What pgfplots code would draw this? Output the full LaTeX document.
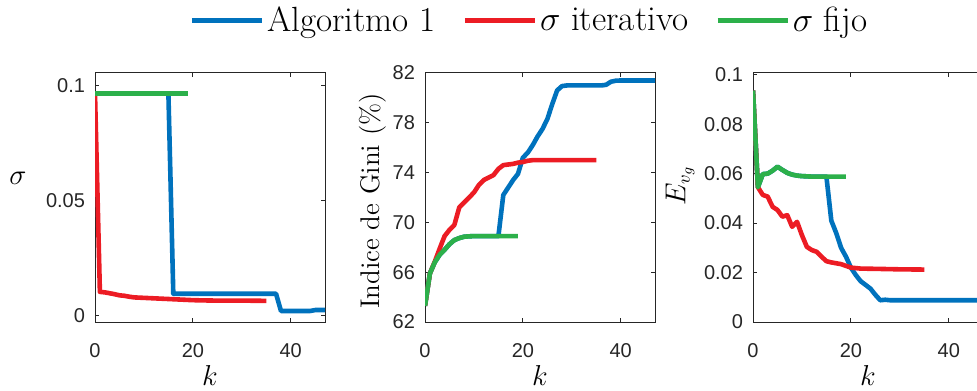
\documentclass[border=0pt]{standalone}
\usepackage{fontspec}
\usepackage{pgfplots}
\pgfplotsset{compat=1.18}
\newfontfamily\tickfont{Liberation Sans}

\definecolor{cblue}{RGB}{0,114,189}
\definecolor{cred}{RGB}{236,28,36}
\definecolor{cgreen}{RGB}{44,176,74}
\definecolor{axgray}{RGB}{38,38,38}

\pgfplotsset{
  panel/.style={
    scale only axis, width=115pt, height=124.5pt,
    anchor=south west,
    xmin=0, xmax=47,
    xtick={0,20,40}, xticklabels={0,20,40},
    axis line style={axgray, line width=0.5pt},
    tick style={axgray, line width=0.5pt},
    tick align=inside, xtick pos=both, ytick pos=both,
    major tick length=2pt,
    tick label style={font=\tickfont\fontsize{10}{12}\selectfont, text=axgray},
    xticklabel style={yshift=-7pt},
    yticklabel style={xshift=-1.5pt},
    label style={font=\fontsize{13.5}{15}\selectfont},
    xlabel={$k$},
    xlabel style={at={(axis description cs:0.5,-0.213)}, anchor=center},
    every axis plot/.append style={line width=2.3pt, line join=round},
  },
}

\begin{document}
\begin{tikzpicture}

% ---- sigma ----
\begin{axis}[panel, at={(47.5pt,34pt)},
  ymin=-0.0029, ymax=0.1054,
  ytick={0,0.05,0.1}, yticklabels={0,0.05,0.1},
  ylabel={$\sigma$},
  ylabel style={at={(axis description cs:-0.335,0.578)}, rotate=-90, anchor=center,
    font=\fontsize{15}{17}\selectfont},
]
\addplot[cblue] coordinates {
  (0,0.0964)(5,0.0964)(10,0.0964)(15,0.0964)(16,0.0094)(20,0.0094)
  (25,0.0094)(30,0.0094)(35,0.0094)(37,0.0094)(38,0.0019)(40,0.0019)
  (44,0.0019)(45,0.0023)(48,0.0023)(50,0.0023)};
\addplot[cred] coordinates {
  (0,0.0964)(1,0.0102)(2,0.0100)(3,0.0096)(4,0.0092)(5,0.0087)(6,0.0085)
  (7,0.0081)(8,0.0078)(9,0.0077)(10,0.0076)(11,0.0075)(12,0.0074)
  (13,0.0073)(14,0.0072)(15,0.0071)(16,0.0070)(17,0.0069)(18,0.0068)
  (19,0.0067)(20,0.0066)(22,0.0065)(25,0.0064)(30,0.0064)(35,0.0063)};
\addplot[cgreen] coordinates {
  (0,0.0964)(5,0.0964)(10,0.0964)(15,0.0964)(19,0.0964)};
\end{axis}

% ---- Gini index ----
\begin{axis}[panel, at={(212.5pt,34pt)},
  ymin=62, ymax=82,
  ytick={62,66,70,74,78,82}, yticklabels={62,66,70,74,78,82},
  ylabel={Indice de Gini (\%)},
  ylabel style={at={(axis description cs:-0.228,0.486)}, anchor=center},
  legend style={at={(axis description cs:0.456,1.21)}, anchor=center,
    draw=none, fill=none, legend columns=3, inner sep=0pt,
    font=\fontsize{17.5}{20}\selectfont,
    nodes={inner sep=1.5pt},
    /tikz/every even column/.append style={column sep=12pt}},
  legend image code/.code={\draw[#1] (0pt,0pt) -- (35pt,0pt);},
]
\addplot[cblue] coordinates {
  (0,63.3)(1,65.9)(2,66.8)(3,67.4)(4,67.8)(5,68.25)(6,68.58)(7,68.74)
  (8,68.85)(9,68.88)(10,68.9)(15,68.9)(16,72.2)(17,72.8)(18,73.4)(19,73.9)
  (20,75.2)(21,75.6)(22,76.2)(23,76.9)(24,77.5)(25,78.3)(26,79.5)(27,80.6)
  (28,80.95)(29,81.0)(36,81.0)(37,81.05)(38,81.3)(39,81.38)(40,81.4)
  (45,81.4)(50,81.4)};
\addlegendentry{Algoritmo 1}
\addplot[cred] coordinates {
  (0,63.3)(1,65.9)(2,66.85)(3,67.9)(4,68.9)(5,69.4)(6,69.8)(7,71.2)(8,71.6)
  (9,72.0)(10,72.4)(11,73.0)(12,73.4)(13,73.6)(14,73.8)(15,74.3)(16,74.6)
  (17,74.65)(18,74.7)(19,74.8)(20,74.85)(21,74.95)(22,75.0)(25,75.0)
  (30,75.0)(35,75.0)};
\addlegendentry{$\sigma$ iterativo}
\addplot[cgreen] coordinates {
  (0,63.3)(1,65.9)(2,66.8)(3,67.4)(4,67.8)(5,68.25)(6,68.58)(7,68.74)
  (8,68.85)(9,68.88)(10,68.9)(15,68.9)(19,68.9)};
\addlegendentry{$\sigma$ fijo}
\end{axis}

% ---- E_{v_g} ----
\begin{axis}[panel, at={(376.5pt,34pt)},
  ymin=0, ymax=0.1007,
  ytick={0,0.02,0.04,0.06,0.08,0.1},
  yticklabels={0,0.02,0.04,0.06,0.08,0.1},
  ylabel={$E_{v_g}$},
  ylabel style={at={(axis description cs:-0.317,0.55)}, anchor=center},
]
\addplot[cblue] coordinates {
  (0,0.0936)(1,0.0545)(2,0.0598)(3,0.0600)(4,0.0612)(5,0.0628)(6,0.0615)
  (7,0.0603)(8,0.0596)(9,0.0592)(10,0.0590)(11,0.0589)(12,0.0588)
  (15,0.0588)(16,0.0410)(17,0.0360)(18,0.0300)(19,0.0264)(20,0.0220)
  (21,0.0190)(22,0.0165)(23,0.0150)(24,0.0135)(25,0.0110)(26,0.0088)
  (27,0.0090)(28,0.0088)(35,0.0088)(40,0.0088)(45,0.0088)(50,0.0088)};
\addplot[cred] coordinates {
  (0,0.0936)(1,0.0545)(2,0.0514)(3,0.0507)(4,0.0466)(5,0.0453)(6,0.0426)
  (7,0.0432)(8,0.0385)(9,0.0405)(10,0.0351)(11,0.0304)(12,0.0291)
  (13,0.0284)(14,0.0264)(15,0.0246)(16,0.0241)(18,0.0234)(20,0.0220)
  (22,0.0216)(25,0.0215)(30,0.0213)(35,0.0212)};
\addplot[cgreen] coordinates {
  (0,0.0936)(1,0.0545)(2,0.0598)(3,0.0600)(4,0.0612)(5,0.0628)(6,0.0615)
  (7,0.0603)(8,0.0596)(9,0.0592)(10,0.0590)(11,0.0589)(12,0.0588)
  (15,0.0588)(19,0.0588)};
\end{axis}

\pgfresetboundingbox
\useasboundingbox (0,0) rectangle (488.5pt,195pt);
\end{tikzpicture}
\end{document}
